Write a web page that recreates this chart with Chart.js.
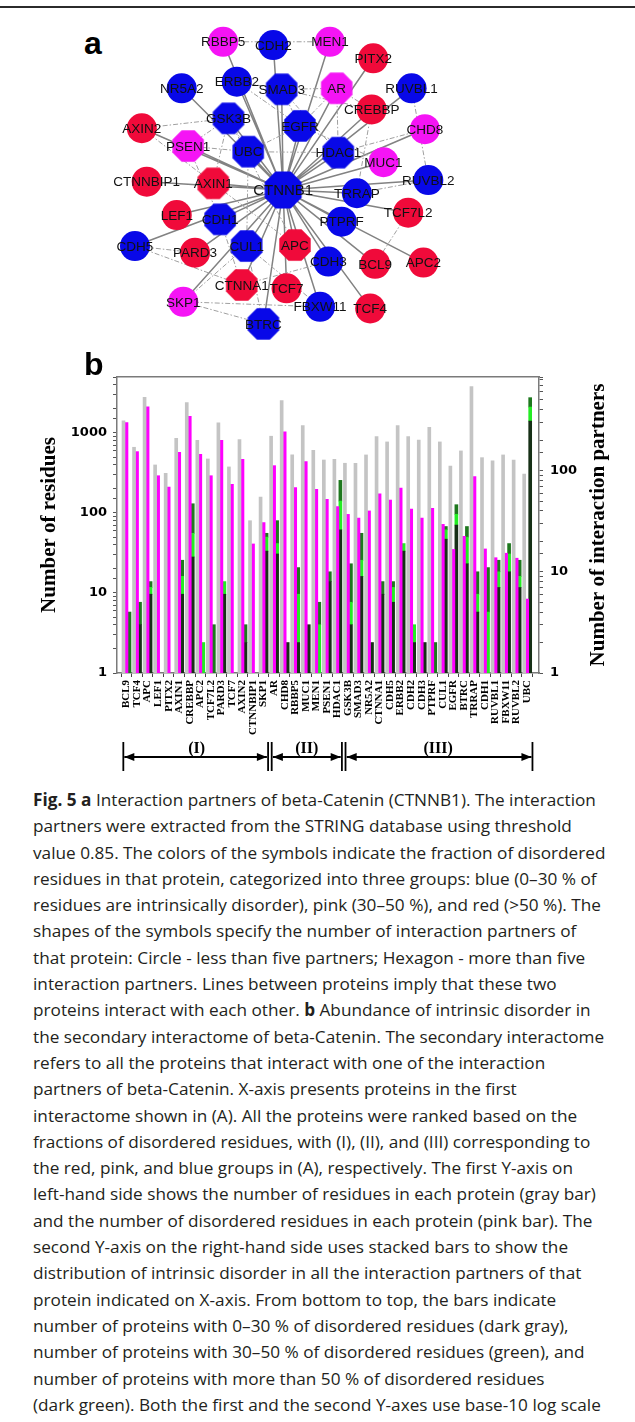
<!DOCTYPE html>
<html>
<head>
<meta charset="utf-8">
<script src="https://cdn.jsdelivr.net/npm/chart.js@4.4.1/dist/chart.umd.min.js"></script>
<style>
  html, body { margin: 0; padding: 0; background: #fff; }
  body { width: 635px; height: 1422px; position: relative; overflow: hidden; }
  #rule { position: absolute; left: 0; top: 6px; width: 635px; height: 2px; background: #2b2b2b; }
  .panel { position: absolute; font-family: "Liberation Sans", Arial, sans-serif; font-weight: bold;
           font-size: 32px; line-height: 32px; color: #000; }
  #netWrap { position: absolute; left: 100px; top: 20px; width: 380px; height: 330px; }
  #barWrap { position: absolute; left: 0; top: 360px; width: 635px; height: 420px; }
  #caption { position: absolute; left: 33px; top: 787px; font-family: "Open Sans", sans-serif;
             font-size: 17.2px; line-height: 26.3px; color: #231f20; white-space: nowrap; }
  #caption b { font-weight: bold; }
</style>
</head>
<body>
<div id="rule"></div>
<div class="panel" style="left:84px; top:27px;">a</div>
<div id="netWrap"><canvas id="net" width="380" height="330"></canvas></div>
<div class="panel" style="left:84px; top:348px;">b</div>
<div id="barWrap"><canvas id="bars" width="635" height="420"></canvas></div>

<div id="caption">
<div><b>Fig. 5</b> <b>a</b> Interaction partners of beta-Catenin (CTNNB1). The interaction</div>
<div>partners were extracted from the STRING database using threshold</div>
<div>value 0.85. The colors of the symbols indicate the fraction of disordered</div>
<div>residues in that protein, categorized into three groups: blue (0–30 % of</div>
<div>residues are intrinsically disorder), pink (30–50 %), and red (&gt;50 %). The</div>
<div>shapes of the symbols specify the number of interaction partners of</div>
<div>that protein: Circle - less than five partners; Hexagon - more than five</div>
<div>interaction partners. Lines between proteins imply that these two</div>
<div>proteins interact with each other. <b>b</b> Abundance of intrinsic disorder in</div>
<div>the secondary interactome of beta-Catenin. The secondary interactome</div>
<div>refers to all the proteins that interact with one of the interaction</div>
<div>partners of beta-Catenin. X-axis presents proteins in the first</div>
<div>interactome shown in (A). All the proteins were ranked based on the</div>
<div>fractions of disordered residues, with (I), (II), and (III) corresponding to</div>
<div>the red, pink, and blue groups in (A), respectively. The first Y-axis on</div>
<div>left-hand side shows the number of residues in each protein (gray bar)</div>
<div>and the number of disordered residues in each protein (pink bar). The</div>
<div>second Y-axis on the right-hand side uses stacked bars to show the</div>
<div>distribution of intrinsic disorder in all the interaction partners of that</div>
<div>protein indicated on X-axis. From bottom to top, the bars indicate</div>
<div>number of proteins with 0–30 % of disordered residues (dark gray),</div>
<div>number of proteins with 30–50 % of disordered residues (green), and</div>
<div>number of proteins with more than 50 % of disordered residues</div>
<div>(dark green). Both the first and the second Y-axes use base-10 log scale</div>
</div>

<script>
// ===================== panel a: CTNNB1 interaction network =====================
// layout coordinates of each protein (0..100 in both directions, y grows downward)
const nodeNames = ['CTNNB1','RBBP5','CDH2','MEN1','PITX2','ERBB2','SMAD3','AR','NR5A2','RUVBL1',
  'CREBBP','GSK3B','EGFR','AXIN2','CHD8','PSEN1','UBC','HDAC1','MUC1','RUVBL2',
  'CTNNBIP1','AXIN1','TRRAP','LEF1','CDH1','PTPRF','TCF7L2','CDH5','PARD3','CUL1',
  'APC','CDH3','BCL9','APC2','CTNNA1','TCF7','SKP1','FBXW11','TCF4','BTRC'];
const nodeX = [48.2,32.4,45.6,60.5,71.9,36.0,47.8,62.3,21.5,82.0,
  71.5,33.8,52.6,11.0,85.5,23.2,39.0,62.7,74.6,86.4,
  12.3,29.8,67.6,20.2,31.6,63.6,81.1,9.2,25.0,38.6,
  51.3,60.1,72.4,85.1,37.3,49.1,21.9,57.9,71.1,43.0];
const nodeY = [51.5,6.6,7.6,6.6,11.6,18.7,21.0,20.7,20.7,20.7,
  27.1,29.8,32.1,32.8,33.1,38.2,39.9,40.2,43.1,48.5,
  49.0,49.5,52.5,59.1,60.4,61.1,58.4,68.5,70.5,68.5,
  68.2,73.2,73.9,73.5,80.3,81.3,85.4,86.9,87.4,92.1];
// disorder class: red > 50 %, pink 30–50 %, blue 0–30 %
const nodeClass = ['blue','pink','blue','pink','red','blue','blue','pink','blue','blue',
  'red','blue','blue','red','pink','pink','blue','blue','pink','blue',
  'red','red','blue','red','blue','blue','red','blue','red','blue',
  'red','blue','red','red','red','red','pink','blue','red','blue'];
// proteins with many interaction partners (drawn as polygons)
const manyPartners = ['CTNNB1','SMAD3','AR','GSK3B','EGFR','PSEN1','UBC','HDAC1','AXIN1',
  'CDH1','CUL1','APC','CTNNA1','BTRC'];
// interactions among the partners themselves
const partnerLinks = [
  ['RBBP5','MEN1'], ['SMAD3','AR'], ['AXIN2','GSK3B'], ['AXIN2','AXIN1'], ['ERBB2','EGFR'],
  ['SMAD3','EGFR'], ['AR','EGFR'], ['AR','HDAC1'], ['AR','CREBBP'], ['SMAD3','CREBBP'],
  ['SMAD3','HDAC1'], ['UBC','HDAC1'], ['UBC','PSEN1'], ['UBC','GSK3B'], ['UBC','CUL1'],
  ['UBC','EGFR'], ['GSK3B','AXIN1'], ['GSK3B','PSEN1'], ['GSK3B','APC'], ['RUVBL1','RUVBL2'],
  ['TRRAP','RUVBL2'], ['MUC1','EGFR'], ['CHD8','HDAC1'], ['CDH5','CTNNA1'], ['CDH1','CTNNA1'],
  ['CDH3','CTNNA1'], ['CUL1','BTRC'], ['SKP1','BTRC'], ['SKP1','FBXW11'], ['SKP1','CUL1'],
  ['CUL1','FBXW11'], ['APC','AXIN1'], ['TCF7L2','BCL9'], ['PSEN1','CDH1'], ['CDH5','PARD3'],
  ['ERBB2','SMAD3'], ['CREBBP','TRRAP']
];

const classColor = { red: '#f00a3a', pink: '#f514f5', blue: '#0808e8' };

function octagonStyle(color, r) {
  const c = document.createElement('canvas');
  const s = Math.ceil(2 * r + 2);
  c.width = s; c.height = s;
  const g = c.getContext('2d');
  g.beginPath();
  for (let k = 0; k < 8; k++) {
    const a = Math.PI / 8 + k * Math.PI / 4;
    const px = s / 2 + r * Math.cos(a), py = s / 2 + r * Math.sin(a);
    if (k === 0) g.moveTo(px, py); else g.lineTo(px, py);
  }
  g.closePath();
  g.fillStyle = color;
  g.fill();
  return c;
}

const idx = name => nodeNames.indexOf(name);
const pt = i => ({ x: nodeX[i], y: nodeY[i] });
const gap = { x: null, y: null };

const hubLines = [];
nodeNames.forEach((n, i) => { if (i !== 0) hubLines.push(pt(0), pt(i), gap); });
const sideLines = [];
partnerLinks.forEach(([a, b]) => sideLines.push(pt(idx(a)), pt(idx(b)), gap));

const nodeStyles = nodeNames.map((n, i) => {
  if (!manyPartners.includes(n)) return 'circle';
  return octagonStyle(classColor[nodeClass[i]], n === 'CTNNB1' ? 20 : 17);
});

const nodeLabels = {
  id: 'nodeLabels',
  afterDatasetsDraw(chart) {
    const ctx = chart.ctx;
    const meta = chart.getDatasetMeta(0);
    ctx.save();
    ctx.textAlign = 'center';
    ctx.textBaseline = 'middle';
    ctx.fillStyle = '#111';
    meta.data.forEach((el, i) => {
      ctx.font = (nodeNames[i] === 'CTNNB1' ? '15px' : '13.5px') + ' "Liberation Sans", Arial, sans-serif';
      ctx.fillText(nodeNames[i], el.x, el.y + 1);
    });
    ctx.restore();
  }
};

new Chart(document.getElementById('net'), {
  type: 'scatter',
  data: {
    datasets: [
      {
        data: nodeNames.map((n, i) => pt(i)),
        pointStyle: nodeStyles,
        pointRadius: nodeNames.map(n => n === 'CTNNB1' ? 20 : 15),
        backgroundColor: nodeClass.map(c => classColor[c]),
        borderWidth: 0,
        clip: false
      },
      {
        data: sideLines, showLine: true, pointRadius: 0, spanGaps: false,
        borderColor: '#a0a0a0', borderWidth: 1, borderDash: [5, 2, 1.5, 2], clip: false
      },
      {
        data: hubLines, showLine: true, pointRadius: 0, spanGaps: false,
        borderColor: '#828282', borderWidth: 1.5, clip: false
      }
    ]
  },
  options: {
    responsive: false, animation: false, devicePixelRatio: 1,
    layout: { padding: 0, autoPadding: false },
    plugins: { legend: { display: false }, tooltip: { enabled: false } },
    scales: {
      x: { type: 'linear', min: 0, max: 100, display: false },
      y: { type: 'linear', min: 0, max: 100, reverse: true, display: false }
    }
  },
  plugins: [nodeLabels]
});

// ===================== panel b: disorder in the secondary interactome =====================
const proteins = ['BCL9','TCF4','APC','LEF1','PITX2','AXIN1','CREBBP','APC2','TCF7L2','PARD3',
  'TCF7','AXIN2','CTNNBIP1','SKP1','AR','CHD8','RBBP5','MUC1','MEN1','PSEN1',
  'HDAC1','GSK3B','SMAD3','NR5A2','CTNNA1','CDH5','ERBB2','CDH2','CDH3','PTPRF',
  'CUL1','EGFR','BTRC','TRRAP','CDH1','RUVBL1','FBXW11','RUVBL2','UBC'];
// number of residues (gray)
const residues = [1413, 662, 2794, 398, 313, 859, 2393, 811, 473, 1334,
  376, 825, 80, 158, 910, 2535, 531, 1234, 608, 459,
  469, 418, 418, 531, 899, 772, 1234, 899, 817, 1178,
  772, 385, 596, 3793, 491, 447, 531, 459, 305];
// number of disordered residues (pink)
const disordered = [1345, 584, 2113, 292, 211, 574, 1616, 542, 292, 811,
  228, 469, 41, 76, 390, 1029, 207, 438, 198, 148,
  120, 96, 86, 106, 173, 145, 204, 112, 86, 114,
  72, 35, 51, 284, 35.5, 27.6, 31.4, 27.2, 8.4];
// interaction partners by disorder class
const partnersLow  = [0, 3, 6, 0, 0, 6, 14, 0, 0, 6,
  0, 2, 0, 16, 15, 2, 2, 3, 0, 8,
  26, 3, 9, 2, 6, 5, 16, 2, 2, 0,
  21, 29, 12, 4, 0, 7, 10, 7, 308];
const partnersMid  = [0, 0, 1, 0, 0, 3, 10, 2, 0, 2,
  0, 0, 0, 6, 4, 0, 4, 0, 3, 0,
  24, 2, 4, 0, 0, 2, 3, 1, 0, 0,
  5, 8, 10, 2, 4, 3, 5, 2, 116];
const partnersHigh = [4, 2, 1, 0, 0, 4, 23, 0, 3, 0,
  0, 1, 0, 2, 13, 0, 5, 0, 2, 2,
  30, 7, 11, 0, 2, 1, 0, 0, 0, 2,
  2, 9, 6, 4, 7, 3, 4, 4, 101];
// disorder groups along the x axis
const groupNames = ['(I)', '(II)', '(III)'];
const groupEdges = [-0.3, 13.6, 20.6, 38.5];

const toPoints = arr => arr.map((v, i) => ({ x: i, y: v > 0 ? v : null }));
const isDecade = v => Math.abs(Math.log10(v) - Math.round(Math.log10(v))) < 1e-9;

const axisGray = '#7a7a7a';
const tickFont = { family: '"DejaVu Sans", Verdana, sans-serif', size: 13, weight: 'bold' };
const serifBold = '"Liberation Serif", "Times New Roman", serif';

const groupBrackets = {
  id: 'groupBrackets',
  afterDraw(chart) {
    const { ctx, chartArea } = chart;
    const x = chart.scales.x;
    const yLine = chartArea.bottom + 84;
    const px = groupEdges.map(v => x.getPixelForValue(v));
    ctx.save();
    ctx.strokeStyle = '#000';
    ctx.fillStyle = '#000';
    ctx.lineWidth = 1.8;
    const head = (tipX, dir) => {
      ctx.beginPath();
      ctx.moveTo(tipX, yLine);
      ctx.lineTo(tipX - dir * 10, yLine - 4);
      ctx.lineTo(tipX - dir * 10, yLine + 4);
      ctx.closePath();
      ctx.fill();
    };
    for (let g = 0; g < groupNames.length; g++) {
      const a = px[g] + (g > 0 ? 3 : 1);
      const b = px[g + 1] - (g < groupNames.length - 1 ? 3 : 1);
      ctx.beginPath();
      ctx.moveTo(a, yLine);
      ctx.lineTo(b, yLine);
      ctx.stroke();
      head(a, -1);
      head(b, 1);
      ctx.font = 'bold 16px ' + serifBold;
      ctx.textAlign = 'center';
      ctx.textBaseline = 'alphabetic';
      ctx.fillText(groupNames[g], (px[g] + px[g + 1]) / 2, yLine - 4);
    }
    px.forEach((p, k) => {
      const offs = (k === 0 || k === px.length - 1) ? [0] : [-1.8, 1.8];
      offs.forEach(o => {
        ctx.beginPath();
        ctx.moveTo(p + o, yLine - 15);
        ctx.lineTo(p + o, yLine + 14);
        ctx.stroke();
      });
    });
    ctx.restore();
  }
};

const rightTitle = {
  id: 'rightTitle',
  afterDraw(chart) {
    const { ctx, chartArea } = chart;
    const s = chart.scales.y2;
    ctx.save();
    ctx.translate(s.left + 60, (chartArea.top + chartArea.bottom) / 2);
    ctx.rotate(-Math.PI / 2);
    ctx.font = 'bold 21px ' + serifBold;
    ctx.textAlign = 'center';
    ctx.textBaseline = 'middle';
    ctx.fillStyle = '#000';
    ctx.fillText('Number of interaction partners', 0, 0);
    ctx.restore();
  }
};

new Chart(document.getElementById('bars'), {
  type: 'bar',
  data: {
    datasets: [
      { label: 'Residues', data: toPoints(residues), backgroundColor: '#c4c4c4', stack: 'g', yAxisID: 'y' },
      { label: 'Disordered residues', data: toPoints(disordered), backgroundColor: '#ff00ff', stack: 'p', yAxisID: 'y' },
      { label: '0–30 %', data: toPoints(partnersLow), backgroundColor: '#163016', stack: 'c', yAxisID: 'y2' },
      { label: '30–50 %', data: toPoints(partnersMid), backgroundColor: '#24ec24', stack: 'c', yAxisID: 'y2' },
      { label: '> 50 %', data: toPoints(partnersHigh), backgroundColor: '#1e781e', stack: 'c', yAxisID: 'y2' }
    ]
  },
  options: {
    responsive: false, animation: false, devicePixelRatio: 1,
    datasets: { bar: { barThickness: 3, borderWidth: 0 } },
    layout: { padding: { top: 17, left: 0, right: 0, bottom: 0 }, autoPadding: false },
    plugins: { legend: { display: false }, tooltip: { enabled: false } },
    scales: {
      x: {
        type: 'linear', position: 'bottom', min: -0.9, max: 39.12, offset: false,
        grid: { display: true, drawOnChartArea: false, drawTicks: true, tickLength: 4, color: '#444' },
        border: { display: true, color: axisGray, width: 1.5 },
        ticks: {
          stepSize: 1, autoSkip: false, includeBounds: false, minRotation: 90, maxRotation: 90, padding: 3,
          color: '#000', font: { family: serifBold, size: 11, weight: 'bold' },
          callback: v => proteins[v] ?? ''
        },
        afterFit: s => { s.height = 107; }
      },
      x2: {
        type: 'linear', position: 'top', min: 0, max: 1, display: true,
        grid: { display: false, drawTicks: false },
        ticks: { display: false },
        border: { display: true, color: axisGray, width: 1.5 },
        afterFit: s => { s.height = 0; }
      },
      y: {
        type: 'logarithmic', position: 'left', min: 1, max: 5000,
        grid: { display: true, drawOnChartArea: false, drawTicks: true, tickLength: 4, color: '#555' },
        border: { display: true, color: axisGray, width: 1.5 },
        ticks: {
          autoSkip: false, padding: 6, color: '#000', font: tickFont,
          callback: v => isDecade(v) ? String(Math.round(v)) : ''
        },
        title: {
          display: true, text: 'Number of residues', color: '#000',
          font: { family: serifBold, size: 21, weight: 'bold' },
          padding: { top: 37, bottom: 0 }
        },
        afterFit: s => { s.width = 117; }
      },
      y2: {
        type: 'logarithmic', position: 'right', min: 1, max: 840,
        grid: { display: true, drawOnChartArea: false, drawTicks: true, tickLength: 4, color: '#555' },
        border: { display: true, color: axisGray, width: 1.5 },
        ticks: {
          autoSkip: false, padding: 7, color: '#000', font: tickFont,
          callback: v => isDecade(v) ? String(Math.round(v)) : ''
        },
        afterFit: s => { s.width = 96; }
      }
    }
  },
  plugins: [groupBrackets, rightTitle]
});
</script>
</body>
</html>
